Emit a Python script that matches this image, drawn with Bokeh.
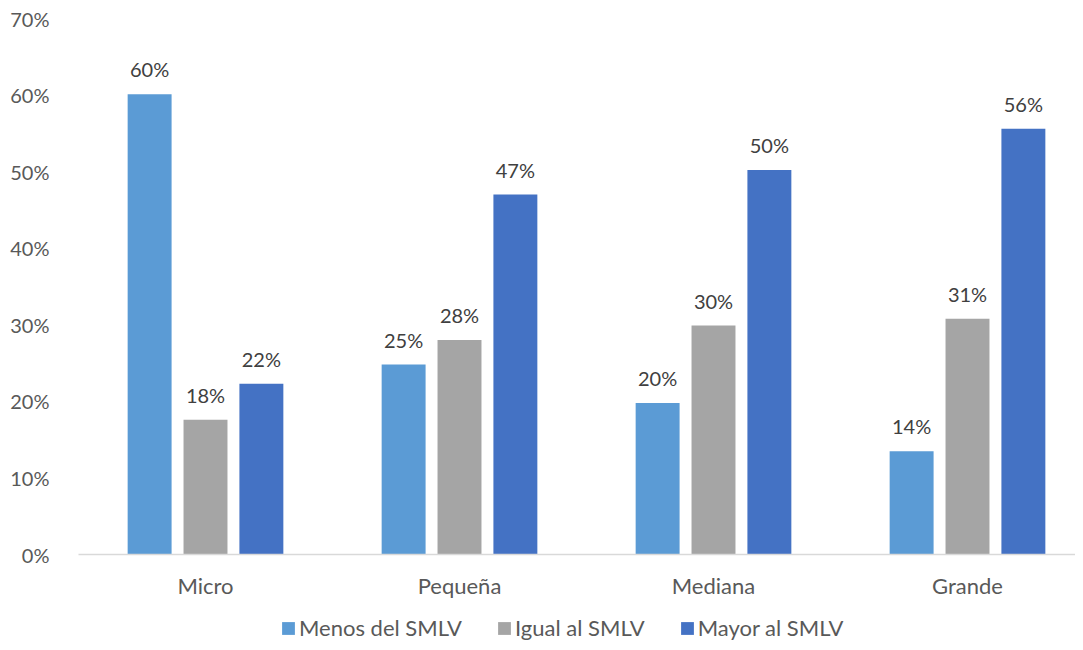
from bokeh.plotting import figure
from bokeh.layouts import column
from bokeh.models import (ColumnDataSource, FixedTicker, NumeralTickFormatter,
                          Legend, LegendItem, Range1d)
from bokeh.transform import dodge
from bokeh.core.properties import value
from bokeh.embed import file_html
from bokeh.resources import INLINE

categories = ["Micro", "Pequeña", "Mediana", "Grande"]
series_names = ["Menos del SMLV", "Igual al SMLV", "Mayor al SMLV"]
menos = [0.601, 0.248, 0.198, 0.135]
igual = [0.176, 0.280, 0.299, 0.308]
mayor = [0.223, 0.470, 0.502, 0.556]
colors = ["#5B9BD5", "#A5A5A5", "#4472C4"]
y_ticks = [0.0, 0.1, 0.2, 0.3, 0.4, 0.5, 0.6, 0.7]

FONT = "Lato"

xs = list(range(len(categories)))
data = dict(x=xs, menos=menos, igual=igual, mayor=mayor,
            menos_l=[f"{v:.0%}" for v in menos],
            igual_l=[f"{v:.0%}" for v in igual],
            mayor_l=[f"{v:.0%}" for v in mayor])
src = ColumnDataSource(data)

p = figure(width=1075, height=602, output_backend="svg", toolbar_location=None,
           x_range=Range1d(-0.5, -0.5 + 997 / 254), y_range=Range1d(0, 0.7),
           min_border_left=78, min_border_right=0, min_border_top=18,
           min_border_bottom=48)
p.outline_line_color = None
p.xgrid.visible = False
p.ygrid.visible = False

offsets = [-0.22, 0.0, 0.22]
keys = ["menos", "igual", "mayor"]
for off, key, col in zip(offsets, keys, colors):
    p.vbar(x=dodge("x", off), top=key, width=0.173, bottom=0, source=src,
           fill_color=col, line_color=None)
    p.text(x=dodge("x", off), y=key, text=key + "_l", source=src,
           text_align="center", text_baseline="alphabetic", y_offset=-25,
           text_font=value(FONT), text_font_size="20px", text_color="#404040")

# x axis
xa = p.xaxis[0]
xa.ticker = FixedTicker(ticks=xs)
xa.major_label_overrides = {i: c for i, c in zip(xs, categories)}
xa.axis_line_color = "#D9D9D9"
xa.axis_line_width = 1.3
xa.major_tick_line_color = None
xa.minor_tick_line_color = None
xa.major_label_standoff = 11
xa.major_label_text_font = FONT
xa.major_label_text_font_size = "22px"
xa.major_label_text_color = "#595959"

# y axis
ya = p.yaxis[0]
ya.ticker = FixedTicker(ticks=y_ticks)
ya.formatter = NumeralTickFormatter(format="0%")
ya.axis_line_color = None
ya.major_tick_line_color = None
ya.minor_tick_line_color = None
ya.major_label_standoff = 23
ya.major_label_text_font = FONT
ya.major_label_text_font_size = "20px"
ya.major_label_text_color = "#595959"

# legend strip (its bars lie outside its visible range; only the legend shows)
lg = figure(width=1075, height=40, output_backend="svg", toolbar_location=None,
            x_range=Range1d(100, 200), y_range=Range1d(100, 200),
            min_border_left=0, min_border_right=0, min_border_top=0,
            min_border_bottom=0)
lg.axis.visible = False
lg.grid.visible = False
lg.outline_line_color = None
leg_renderers = [lg.vbar(x="x", top=key, width=0.173, bottom=0, source=src,
                         fill_color=c, line_color=None)
                 for key, c in zip(keys, colors)]
legend = Legend(items=[LegendItem(label=n, renderers=[r])
                       for n, r in zip(series_names, leg_renderers)],
                orientation="horizontal", location=(202, 1),
                glyph_width=16, glyph_height=16, label_standoff=3, spacing=34,
                label_text_font=FONT, label_text_font_size="22px",
                label_text_color="#595959", border_line_color=None,
                background_fill_alpha=0, margin=0, padding=0)
legend.label_height = 22
lg.add_layout(legend, "center")

layout = column(p, lg, spacing=0)
open("out.html", "w").write(file_html(layout, INLINE))
